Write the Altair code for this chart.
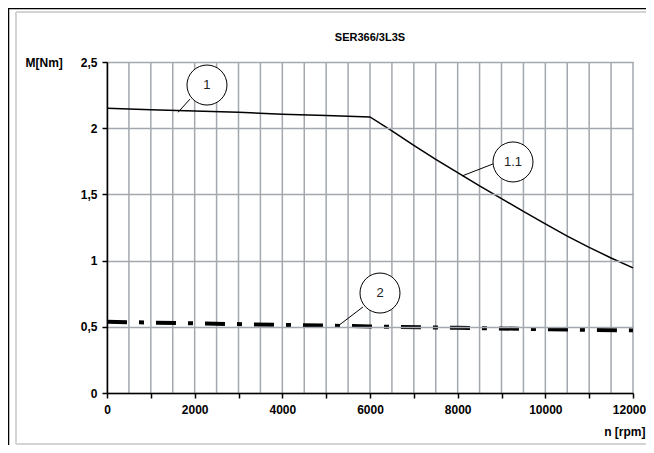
import altair as alt
import pandas as pd

title_text = "SER366/3L3S"
y_title = "M[Nm]"
x_title = "n [rpm]"

# curve 1 / 1.1
n1 = [0, 1000, 2000, 3000, 4000, 5000, 6000, 6500, 7000, 7500, 8000, 8500,
      9000, 9500, 10000, 10500, 11000, 11500, 12000]
m1 = [2.15, 2.14, 2.13, 2.12, 2.105, 2.095, 2.085, 1.98, 1.87, 1.765, 1.665, 1.565,
      1.468, 1.372, 1.278, 1.185, 1.10, 1.02, 0.945]
# curve 2
n2 = [0, 2000, 4000, 6000, 8000, 10000, 12000]
m2 = [0.538, 0.526, 0.514, 0.503, 0.492, 0.482, 0.473]

x_ticks = list(range(0, 12001, 1000))
x_grid = list(range(0, 12001, 500))
y_ticks = [0, 0.5, 1, 1.5, 2, 2.5]

ann_label = ["1", "1.1", "2"]
ann_n = [2281, 9262, 6228]
ann_m = [2.326, 1.745, 0.755]
lead_n_from = [1894, 8806, 5840]
lead_m_from = [2.22, 1.73, 0.65]
lead_n_to = [1620, 8099, 5270]
lead_m_to = [2.12, 1.639, 0.506]

FONT = "Liberation Sans"
GRID = "#a3a8ae"
W, H = 526, 331

xs = alt.Scale(domain=[x_grid[0], x_grid[-1]], nice=False, zero=False)
ys = alt.Scale(domain=[y_ticks[0], y_ticks[-1]], nice=False, zero=False)

df1 = pd.DataFrame({"n": n1, "m": m1})
df2 = pd.DataFrame({"n": n2, "m": m2})
dgrid = pd.DataFrame({"n": x_grid, "lo": y_ticks[0], "hi": y_ticks[-1]})
dann = pd.DataFrame({"label": ann_label, "n": ann_n, "m": ann_m,
                     "n0": lead_n_from, "m0": lead_m_from,
                     "n1": lead_n_to, "m1": lead_m_to})
dtitle = pd.DataFrame({"t": [title_text]})
one = pd.DataFrame({"a": [0]})

xaxis = alt.Axis(values=x_ticks, grid=False, tickSize=5, tickColor="black", tickWidth=1.5,
                 domainColor="black", domainWidth=1.5,
                 labelExpr="datum.value % 2000 == 0 ? toString(datum.value) : ''",
                 labelFont=FONT, labelFontSize=12, labelFontWeight="bold", labelColor="black",
                 labelPadding=6, labelFlush=False, labelOverlap=False,
                 labelOffset={"condition": {"test": "datum.value == 12000", "value": -4},
                              "value": 0},
                 title=x_title, titleFont=FONT, titleFontSize=12, titleFontWeight="bold",
                 titleColor="black", titleAnchor="end", titleX=538, titleY=38,
                 titleAlign="right", titleBaseline="middle", zindex=1)
yaxis = alt.Axis(values=y_ticks, grid=True, gridColor=GRID, gridWidth=1.5,
                 tickSize=5, tickColor="black", tickWidth=1.5,
                 domainColor="black", domainWidth=1.5,
                 labelExpr="replace(toString(datum.value), '.', ',')",
                 labelFont=FONT, labelFontSize=12, labelFontWeight="bold", labelColor="black",
                 labelPadding=5, labelFlush=False,
                 title=y_title, titleFont=FONT, titleFontSize=12, titleFontWeight="bold",
                 titleColor="black", titleAngle=0, titleX=-82, titleY=0,
                 titleAlign="left", titleBaseline="middle", zindex=1)

grid = alt.Chart(dgrid).mark_rule(color=GRID, strokeWidth=1.5).encode(
    x=alt.X("n:Q", scale=xs, axis=xaxis),
    y=alt.Y("lo:Q", scale=ys, axis=yaxis),
    y2="hi:Q",
)

line1 = alt.Chart(df1).mark_line(color="black", strokeWidth=1.5).encode(
    x=alt.X("n:Q", scale=xs), y=alt.Y("m:Q", scale=ys))

line2 = alt.Chart(df2).mark_line(color="black", strokeWidth=4,
                                 strokeDash=[20, 12, 5, 12]).encode(
    x=alt.X("n:Q", scale=xs), y=alt.Y("m:Q", scale=ys))

leaders = alt.Chart(dann).mark_rule(color="black", strokeWidth=1).encode(
    x=alt.X("n0:Q", scale=xs), y=alt.Y("m0:Q", scale=ys), x2="n1:Q", y2="m1:Q")

circles = alt.Chart(dann).mark_point(shape="circle", size=1600, filled=False,
                                     fill="white", fillOpacity=1, stroke="black",
                                     strokeWidth=1, opacity=1).encode(
    x=alt.X("n:Q", scale=xs), y=alt.Y("m:Q", scale=ys))

labels = alt.Chart(dann).mark_text(font=FONT, fontSize=13, color="#222222").encode(
    x=alt.X("n:Q", scale=xs), y=alt.Y("m:Q", scale=ys), text="label:N")

title = alt.Chart(dtitle).mark_text(font=FONT, fontSize=11, fontWeight="bold",
                                    color="black", baseline="middle").encode(
    x=alt.value(W / 2), y=alt.value(-24), text="t:N")

# frame decoration
frame_black_v = alt.Chart(one).mark_rule(color="black", strokeWidth=1.5).encode(
    x=alt.value(-98.5), y=alt.value(-54), y2=alt.value(384))
frame_black_h = alt.Chart(one).mark_rule(color="black", strokeWidth=1.5).encode(
    y=alt.value(-53.5), x=alt.value(-99), x2=alt.value(540))
frame_grey_v = alt.Chart(one).mark_rule(color="#d4d4d4", strokeWidth=2).encode(
    x=alt.value(-91), y=alt.value(-50), y2=alt.value(382))
frame_grey_h = alt.Chart(one).mark_rule(color="#d4d4d4", strokeWidth=2).encode(
    y=alt.value(-50), x=alt.value(-91), x2=alt.value(540))
frame_grey_b = alt.Chart(one).mark_rule(color="#d4d4d4", strokeWidth=2).encode(
    y=alt.value(382), x=alt.value(-91), x2=alt.value(540))

chart = alt.layer(
    frame_black_v, frame_black_h, frame_grey_v, frame_grey_h, frame_grey_b,
    grid, line1, line2, leaders, circles, labels, title,
).properties(
    width=W, height=H,
    autosize=alt.AutoSizeParams(type="none"),
    padding={"left": 99, "top": 54, "right": 13, "bottom": 52},
    background="white",
).configure_view(stroke=None)

chart.save("out.html", embed_options={"renderer": "svg", "actions": False})
